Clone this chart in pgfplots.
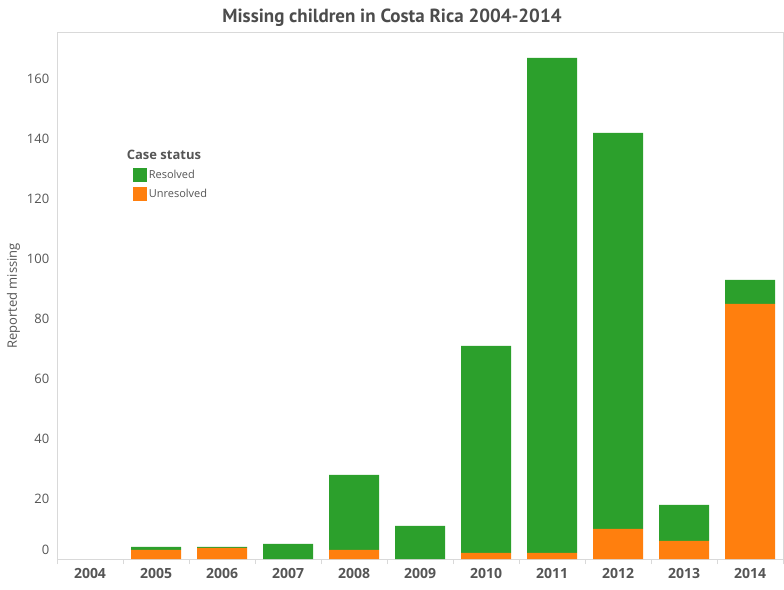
\documentclass[border=0pt]{standalone}
\usepackage{pgfplots}
\pgfplotsset{compat=1.18}
\usepackage{fontspec}
\setmainfont{Open Sans}
\newfontfamily\titlefont{PT Sans}
\definecolor{tgreen}{HTML}{2CA02C}
\definecolor{torange}{HTML}{FF7F0E}
\definecolor{txt}{HTML}{555555}
\definecolor{frame}{HTML}{D9D9D9}
\begin{document}
\begin{tikzpicture}[x=1pt,y=1pt]
\path[use as bounding box] (0,0) rectangle (784,589);
\node[font=\titlefont\bfseries\fontsize{19}{22}\selectfont, text=txt!90!black] at (392,571) {Missing children in Costa Rica 2004-2014};
\begin{axis}[
  at={(57pt,30pt)}, anchor=south west,
  scale only axis, width=726pt, height=526pt,
  ybar stacked, bar width=50pt,
  xmin=-0.5, xmax=10.5, ymin=0, ymax=175.3,
  xtick={0,...,10},
  xticklabels={2004,2005,2006,2007,2008,2009,2010,2011,2012,2013,2014},
  xticklabel style={font=\bfseries\fontsize{14}{16}\selectfont, text=txt, yshift=-2pt},
  major x tick style={draw=none},
  minor xtick={-0.5,0.5,...,10.5},
  minor x tick style={draw=frame, line width=1pt},
  minor tick length=5pt,
  tick align=outside,
  xtick pos=bottom,
  ytick={0,20,...,160},
  yticklabels={\raisebox{19pt}{0},20,40,60,80,100,120,140,160},
  ytick style={draw=none},
  yticklabel style={font=\fontsize{13}{15}\selectfont, text=txt},
  ylabel={Reported missing},
  ylabel style={font=\fontsize{13}{15}\selectfont, text=txt},
  axis line style={draw=frame, line width=1pt},
  legend style={at={(0.1,0.785)}, anchor=north west, draw=none, fill=none,
    font=\fontsize{11}{13}\selectfont, text=txt, row sep=5pt,
    legend cell align=left},
  legend image code/.code={\fill[#1] (0pt,-7pt) rectangle (14pt,7pt);},
]
\addplot[fill=torange, draw=none, forget plot] coordinates {(0,0) (1,3) (2,3.7) (3,0) (4,3) (5,0) (6,2) (7,2) (8,10) (9,6) (10,85)};
\addplot[fill=tgreen, draw=none, forget plot] coordinates {(0,0) (1,1) (2,0.3) (3,5) (4,25) (5,11) (6,69) (7,165) (8,132) (9,12) (10,8)};
\addlegendimage{empty legend}
\addlegendentry{\hspace{-22pt}\bfseries\fontsize{13}{15}\selectfont Case status}
\addlegendimage{fill=tgreen, draw=none}
\addlegendentry{Resolved}
\addlegendimage{fill=torange, draw=none}
\addlegendentry{Unresolved}
\end{axis}
\end{tikzpicture}
\end{document}
